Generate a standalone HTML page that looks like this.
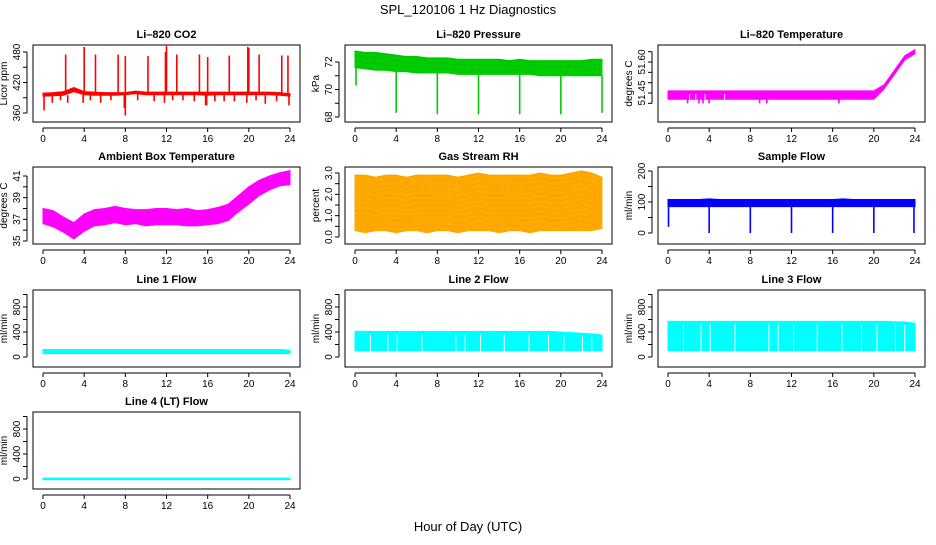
<!DOCTYPE html>
<html><head><meta charset="utf-8"><style>
body{margin:0;background:#fff}
svg text{font-family:"Liberation Sans",sans-serif;fill:#000}
</style></head><body>
<svg id="c" width="936" height="540" viewBox="0 0 936 540">
<text x="468" y="14" font-size="13" text-anchor="middle">SPL_120106  1 Hz Diagnostics</text>
<text x="468" y="531" font-size="13" text-anchor="middle">Hour of Day (UTC)</text>
</svg>
<script>
const hours=[0,1,2,3,4,5,6,7,8,9,10,11,12,13,14,15,16,17,18,19,20,21,22,23,24];
const xTicks=[0,4,8,12,16,20,24];
// CO2
const co2Lo=[393,394,395,402,396,395,395,395,396,398,396,396,396,396,396,396,395,396,396,396,396,396,396,395,393];
const co2Hi=[399,400,402,410,402,401,400,400,400,403,401,401,401,401,401,401,401,401,401,401,401,401,401,400,398];
const co2SpikeHours=[2.2,4.0,5.1,7.3,8.0,10.2,11.9,12.0,13.0,15.2,16.0,18.1,19.9,20.0,21.0,23.2,23.8];
const co2SpikeVals=[475,490,475,475,472,472,480,492,475,475,470,473,490,488,475,473,473];
const co2DipHours=[0.1,0.9,1.7,2.4,3.9,4.6,5.6,6.6,7.9,8.0,9.2,10.8,11.8,12.6,13.6,14.7,15.8,15.9,16.7,17.6,18.6,19.8,20.7,21.6,22.7,23.9];
const co2DipVals=[365,380,385,380,380,385,380,385,370,355,385,383,380,385,385,383,375,375,383,383,383,380,385,378,383,375];
// Pressure
const prLo=[71.6,71.5,71.4,71.4,71.3,71.3,71.2,71.2,71.2,71.2,71.1,71.1,71.1,71.1,71.1,71.1,71.1,71.1,71.0,71.0,71.0,71.0,71.0,71.0,71.0];
const prHi=[72.8,72.7,72.7,72.6,72.5,72.4,72.4,72.3,72.3,72.3,72.2,72.2,72.2,72.2,72.2,72.1,72.2,72.1,72.1,72.1,72.1,72.1,72.1,72.2,72.2];
const prDipHours=[0.1,4,8,12,16,20,24];
const prDipVals=[70.3,68.3,68.2,68.2,68.2,68.2,68.3];
// Li-820 temperature
const ltLo=[51.42,51.42,51.42,51.42,51.42,51.42,51.42,51.42,51.42,51.42,51.42,51.42,51.42,51.42,51.42,51.42,51.42,51.42,51.42,51.42,51.42,51.47,51.54,51.61,51.64];
const ltHi=[51.46,51.46,51.46,51.46,51.46,51.46,51.46,51.46,51.46,51.46,51.46,51.46,51.46,51.46,51.46,51.46,51.46,51.46,51.46,51.46,51.46,51.49,51.56,51.63,51.66];
// Ambient box temp
const abLo=[36.6,36.3,35.8,35.2,35.9,36.4,36.5,36.7,36.5,36.6,36.4,36.5,36.5,36.5,36.4,36.4,36.5,36.6,36.9,37.7,38.4,39.2,39.7,40.1,40.2];
const abHi=[38.0,37.8,37.2,36.7,37.5,37.9,38.0,38.2,38.0,37.9,37.9,38.0,38.0,37.9,38.0,37.8,37.9,38.1,38.4,39.2,40.0,40.6,41.0,41.3,41.5];
// Gas stream RH
const rhLo=[0.3,0.2,0.3,0.3,0.2,0.3,0.3,0.2,0.3,0.3,0.2,0.3,0.3,0.3,0.2,0.3,0.3,0.2,0.3,0.3,0.3,0.3,0.3,0.3,0.4];
const rhHi=[2.9,2.9,2.8,2.9,2.9,2.8,2.9,2.9,2.9,2.9,2.8,2.9,3.0,2.9,2.9,2.9,2.9,2.9,3.0,2.9,2.9,3.0,3.1,3.0,2.8];
// Sample flow
const sfLo=[85,85,85,85,85,85,85,85,85,85,85,85,85,85,85,85,85,85,85,85,85,85,85,85,85];
const sfHi=[108,108,108,108,110,108,108,108,108,108,108,108,108,108,108,108,108,110,108,108,108,108,108,108,108];
const sfDipHours=[0.05,4,8,12,16,20,23.9];
const sfDipVals=[20,0,0,0,0,0,0];
// Line flows
const l1Lo=[55,55,55,55,55,55,55,55,55,55,55,55,55,55,55,55,55,55,55,55,55,55,55,55,55];
const l1Hi=[120,120,120,120,120,120,120,120,120,120,120,120,120,120,120,120,120,120,120,120,120,120,120,120,110];
const l2Lo=[100,100,100,100,100,100,100,100,100,100,100,100,100,100,100,100,100,100,100,100,100,100,100,100,100];
const l2Hi=[410,410,410,410,410,410,410,410,410,410,410,410,410,410,410,410,410,410,410,410,400,390,380,370,350];
const l3Lo=[100,100,100,100,100,100,100,100,100,100,100,100,100,100,100,100,100,100,100,100,100,100,100,100,100];
const l3Hi=[570,570,570,570,570,570,570,570,570,570,570,570,570,570,570,570,570,570,570,570,570,570,565,560,540];
const l4Lo=[-10,-10,-10,-10,-10,-10,-10,-10,-10,-10,-10,-10,-10,-10,-10,-10,-10,-10,-10,-10,-10,-10,-10,-10,-10];
const l4Hi=[15,15,15,15,15,15,15,15,15,15,15,15,15,15,15,15,15,15,15,15,15,15,15,15,15];

const svg=document.getElementById('c');
const NS='http://www.w3.org/2000/svg';
function mk(tag,attrs,parent){const e=document.createElementNS(NS,tag);for(const k in attrs)e.setAttribute(k,attrs[k]);(parent||svg).appendChild(e);return e;}

function panel(p){
  const colL=[33,345,658][p.col], rowT=[45,167,290,412][p.row];
  const L=colL,R=L+267,T=rowT,B=T+77;
  const x0=L+10,x1=R-10;
  const sx=h=>x0+(x1-x0)*h/24;
  const sy=v=>p.yPix0+(v-p.yv0)*(p.yPix1-p.yPix0)/(p.yv1-p.yv0);
  const yb=v=>sy(v)+(T-45);
  const g=mk('g',{});
  
  
  const t=mk('text',{x:(L+R)/2,y:T-7,'font-size':11,'font-weight':'bold','text-anchor':'middle'},g);
  t.textContent=p.title;
  
  
  const cid='clip'+p.name;
  const cp=mk('clipPath',{id:cid},g);mk('rect',{x:L,y:T,width:R-L,height:B-T},cp);
  const d=mk('g',{'clip-path':'url(#'+cid+')'},g);
  
  
  let top=[],bot=[];
  for(let i=0;i<hours.length;i++){
    top.push(sx(hours[i])+','+yb(p.hi[i]));
    bot.push(sx(hours[i])+','+yb(p.lo[i]));
  }
  const pts=top.concat(bot.reverse());
  const band=mk('polygon',{points:pts.join(' '),fill:p.color,stroke:p.color,'stroke-width':1},d);
  
  
  if(p.texture){
    for(let h=0;h<24;h+=0.25){
      const i=Math.min(23,Math.floor(h)),f=h-i;
      const lo=p.lo[i]+(p.lo[i+1]-p.lo[i])*f,hi=p.hi[i]+(p.hi[i+1]-p.hi[i])*f;
      const ln=mk('line',{x1:sx(h),x2:sx(h),y1:yb(hi),y2:yb(lo),stroke:p.texture,'stroke-width':0.4,'stroke-dasharray':'1 4','opacity':0.6},d);
      
      
    }
  }
  if(p.gaps){
    for(const h of p.gaps){
      const i=Math.round(h);
      const ln=mk('line',{x1:sx(h),x2:sx(h),y1:yb(p.hi[i])+3,y2:yb(p.lo[i]),stroke:'#fff','stroke-width':1},d);
      
      
    }
  }
  const spikes=(hs,vs,from)=>{hs.forEach((h,i)=>{
    const idx=Math.round(h);
    const base=from==='hi'?p.hi[idx]:p.lo[idx];
    const ln=mk('line',{x1:sx(h),x2:sx(h),y1:yb(base),y2:yb(vs[i]),stroke:p.color,'stroke-width':1.6},d);
    
    
  });};
  if(p.upH)spikes(p.upH,p.upV,'hi');
  if(p.dnH)spikes(p.dnH,p.dnV,'lo');
  const box=mk('rect',{x:L,y:T,width:R-L,height:B-T,fill:'none',stroke:'#000','stroke-width':1},g);
  
  
  const ax=mk('line',{x1:sx(0),x2:sx(24),y1:B+6,y2:B+6,stroke:'#000'},g);
  
  
  xTicks.forEach(h=>{
    mk('line',{x1:sx(h),x2:sx(h),y1:B+6,y2:B+10,stroke:'#000'},g);
    const tx=mk('text',{x:sx(h),y:B+20,'font-size':10,'text-anchor':'middle'},g);
    tx.textContent=h;
    
    
  });
  const ay=mk('line',{x1:L-6,x2:L-6,y1:yb(p.yTicks[0]),y2:yb(p.yTicks[p.yTicks.length-1]),stroke:'#000'},g);
  
  
  p.yTicks.forEach((v,i)=>{
    const y=yb(v);
    mk('line',{x1:L-10,x2:L-6,y1:y,y2:y,stroke:'#000'},g);
    if(p.yLabels[i]!==''){
      const tx=mk('text',{x:0,y:0,'font-size':10,'text-anchor':'middle',transform:`translate(${L-13},${y}) rotate(-90)`},g);
      tx.textContent=p.yLabels[i];
      
      
    }
  });
  const yl=mk('text',{x:0,y:0,'font-size':10,'text-anchor':'middle',transform:`translate(${L-26},${(T+B)/2}) rotate(-90)`},g);
  yl.textContent=p.ylab;
  
  
}

panel({name:'co2',title:'Li–820 CO2',col:0,row:0,color:'#f00',lo:co2Lo,hi:co2Hi,upH:co2SpikeHours,upV:co2SpikeVals,dnH:co2DipHours,dnV:co2DipVals,
  yv0:360,yv1:480,yPix0:113,yPix1:52,yTicks:[360,390,420,450,480],yLabels:['360','','420','','480'],ylab:'Licor ppm'});
panel({name:'pressure',title:'Li–820 Pressure',col:1,row:0,color:'#0c0',lo:prLo,hi:prHi,dnH:prDipHours,dnV:prDipVals,texture:'#060',
  yv0:68,yv1:72,yPix0:117,yPix1:62,yTicks:[68,69,70,71,72],yLabels:['68','','70','','72'],ylab:'kPa'});
panel({name:'licor-temp',title:'Li–820 Temperature',col:2,row:0,color:'#f0f',lo:ltLo,hi:ltHi,dnH:[1.9,3.0,3.4,4.0,8.9,9.6,16.6],dnV:[51.4,51.4,51.4,51.4,51.4,51.4,51.4],gaps:[2.1,2.7,3.6,5.5],
  yv0:51.45,yv1:51.60,yPix0:93,yPix1:62,yTicks:[51.40,51.45,51.50,51.55,51.60,51.65],yLabels:['','51.45','','','51.60',''],ylab:'degrees C'});
panel({name:'ambient-temp',title:'Ambient Box Temperature',col:0,row:1,color:'#f0f',lo:abLo,hi:abHi,
  yv0:35,yv1:41,yPix0:119,yPix1:54,yTicks:[35,36,37,38,39,40,41],yLabels:['35','','37','','39','','41'],ylab:'degrees C'});
panel({name:'gas-rh',title:'Gas Stream RH',col:1,row:1,color:'#fa0',lo:rhLo,hi:rhHi,texture:'#d40',
  yv0:0,yv1:3,yPix0:115,yPix1:51,yTicks:[0,0.5,1,1.5,2,2.5,3],yLabels:['0.0','','1.0','','2.0','','3.0'],ylab:'percent'});
panel({name:'sample-flow',title:'Sample Flow',col:2,row:1,color:'#00f',lo:sfLo,hi:sfHi,dnH:sfDipHours,dnV:sfDipVals,
  yv0:0,yv1:200,yPix0:111,yPix1:49,yTicks:[0,50,100,150,200],yLabels:['0','','100','','200'],ylab:'ml/min'});
const flowAxis={yv0:0,yv1:800,yPix0:112,yPix1:62,yTicks:[0,200,400,600,800,1000],yLabels:['0','','400','','800',''],ylab:'ml/min'};
panel(Object.assign({name:'line1-flow',title:'Line 1 Flow',col:0,row:2,color:'#0ff',lo:l1Lo,hi:l1Hi},flowAxis));
panel(Object.assign({name:'line2-flow',title:'Line 2 Flow',col:1,row:2,color:'#0ff',lo:l2Lo,hi:l2Hi,gaps:[1.5,3.2,4.1,6.5,9.8,10.7,12.2,14.5,16.9,18.8,20.3,22.1,23]},flowAxis));
panel(Object.assign({name:'line3-flow',title:'Line 3 Flow',col:2,row:2,color:'#0ff',lo:l3Lo,hi:l3Hi,gaps:[1.5,3.2,4.1,6.5,9.8,10.7,12.2,14.5,16.9,18.8,20.3,22.1,23]},flowAxis));
panel(Object.assign({name:'line4-flow',title:'Line 4 (LT) Flow',col:0,row:3,color:'#0ff',lo:l4Lo,hi:l4Hi},flowAxis));
</script>
</body></html>
